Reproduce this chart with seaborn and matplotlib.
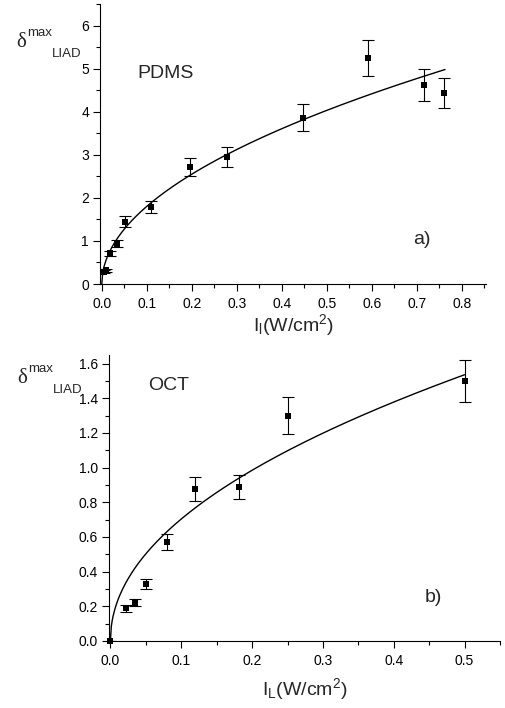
import numpy as np
import pandas as pd
import matplotlib
matplotlib.use("Agg")
import matplotlib.pyplot as plt
import seaborn as sns
from matplotlib.ticker import MultipleLocator, FormatStrFormatter

sns.set_style("ticks")
plt.rcParams["font.family"] = ["Liberation Sans", "DejaVu Sans"]
plt.rcParams["mathtext.fontset"] = "custom"
plt.rcParams["mathtext.rm"] = "Liberation Sans"
plt.rcParams["mathtext.it"] = "Liberation Sans"
plt.rcParams["axes.edgecolor"] = "black"
plt.rcParams["xtick.color"] = "black"
plt.rcParams["ytick.color"] = "black"

# (a) PDMS: laser intensity (W/cm^2), maximum LIAD amplitude, error
pdms_intensity = [0.004, 0.010, 0.019, 0.033, 0.052, 0.109, 0.196, 0.278, 0.447, 0.591, 0.716, 0.761]
pdms_delta = [0.29, 0.32, 0.71, 0.93, 1.45, 1.78, 2.71, 2.94, 3.86, 5.25, 4.61, 4.43]
pdms_err = [0.03, 0.03, 0.05, 0.08, 0.12, 0.14, 0.21, 0.23, 0.31, 0.42, 0.37, 0.35]
# power-law fit delta = A * I^p, drawn up to I_max
pdms_fit_A, pdms_fit_p, pdms_fit_max = 5.70, 0.50, 0.763

# (b) OCT
oct_intensity = [0.0, 0.022, 0.034, 0.050, 0.080, 0.120, 0.181, 0.250, 0.500]
oct_delta = [0.0, 0.19, 0.22, 0.33, 0.57, 0.877, 0.89, 1.30, 1.50]
oct_err = [0.0, 0.02, 0.02, 0.03, 0.045, 0.07, 0.07, 0.105, 0.12]
oct_fit_A, oct_fit_p, oct_fit_max = 2.15, 0.485, 0.500

W, H = 505, 708
fig = plt.figure(figsize=(W / 100, H / 100), dpi=100)


def axes_px(left, top, right, bottom):
    return fig.add_axes([left / W, 1 - bottom / H, (right - left) / W, (bottom - top) / H])


def draw_panel(ax, xs, ys, errs, A, p, xmax_fit):
    grid = np.linspace(0, xmax_fit, 400)
    fit = pd.DataFrame({"I": grid, "delta": A * grid ** p})
    sns.lineplot(data=fit, x="I", y="delta", color="black", linewidth=1.0,
                 ax=ax, zorder=2, clip_on=False)
    pts = pd.DataFrame({"I": xs, "delta": ys, "err": errs})
    ax.errorbar(pts["I"], pts["delta"], yerr=pts["err"], fmt="none",
                ecolor="black", elinewidth=0.8, capsize=4.3, capthick=0.8, zorder=3)
    sns.scatterplot(data=pts, x="I", y="delta", marker="s", s=22, color="black",
                    edgecolor="black", linewidth=0, ax=ax, zorder=4, clip_on=False)
    sns.despine(ax=ax)
    for s in ("left", "bottom"):
        ax.spines[s].set_linewidth(0.8)
    ax.tick_params(which="major", direction="out", length=5, width=0.8, labelsize=10)
    ax.tick_params(axis="x", which="major", pad=4.5)
    ax.tick_params(axis="y", which="major", pad=3)
    ax.tick_params(which="minor", direction="out", length=3, width=0.8)
    ax.set_ylabel("")


ax1 = axes_px(100, 4, 486, 284)
draw_panel(ax1, pdms_intensity, pdms_delta, pdms_err, pdms_fit_A, pdms_fit_p, pdms_fit_max)
ax1.set_xlim(-0.004, 0.854)
ax1.set_ylim(0, 6.5)
ax1.xaxis.set_major_locator(MultipleLocator(0.1))
ax1.xaxis.set_minor_locator(MultipleLocator(0.05))
ax1.xaxis.set_major_formatter(FormatStrFormatter("%.1f"))
ax1.yaxis.set_major_locator(MultipleLocator(1))
ax1.yaxis.set_minor_locator(MultipleLocator(0.5))
ax1.set_xlabel(r"$\mathregular{I_l(W/cm^2)}$", fontsize=14)
ax1.xaxis.set_label_coords(0.5, -0.1)

ax2 = axes_px(109, 355, 500, 641)
draw_panel(ax2, oct_intensity, oct_delta, oct_err, oct_fit_A, oct_fit_p, oct_fit_max)
ax2.set_xlim(-0.002, 0.55)
ax2.set_ylim(0, 1.65)
ax2.xaxis.set_major_locator(MultipleLocator(0.1))
ax2.xaxis.set_minor_locator(MultipleLocator(0.05))
ax2.xaxis.set_major_formatter(FormatStrFormatter("%.1f"))
ax2.yaxis.set_major_locator(MultipleLocator(0.2))
ax2.yaxis.set_minor_locator(MultipleLocator(0.1))
ax2.yaxis.set_major_formatter(FormatStrFormatter("%.1f"))
ax2.set_xlabel(r"$\mathregular{I_L(W/cm^2)}$", fontsize=14)
ax2.xaxis.set_label_coords(0.5, -0.122)


def fig_text(x, y, s, **kw):
    fig.text(x / W, 1 - y / H, s, **kw)


# in-panel annotations
fig_text(137, 74, "PDMS", fontsize=14, va="center")
fig_text(148, 386, "OCT", fontsize=14, va="center")
fig_text(413, 240, "a)", fontsize=14, va="center")
fig_text(425, 597, "b)", fontsize=14, va="center")

# y-axis labels built from separate pieces: delta, superscript, subscript
for (dx, dy) in ((16, 47), (17, 383)):
    fig_text(dx, dy, "\u03b4", fontsize=15, family=["Liberation Serif", "DejaVu Serif"],
             va="baseline")
    fig_text(dx + 11, dy - 11, "max", fontsize=9.5, va="baseline")
    fig_text(dx + 36, dy + 10, "LIAD", fontsize=9.5, va="baseline")

fig.savefig("out.png", dpi=100)
